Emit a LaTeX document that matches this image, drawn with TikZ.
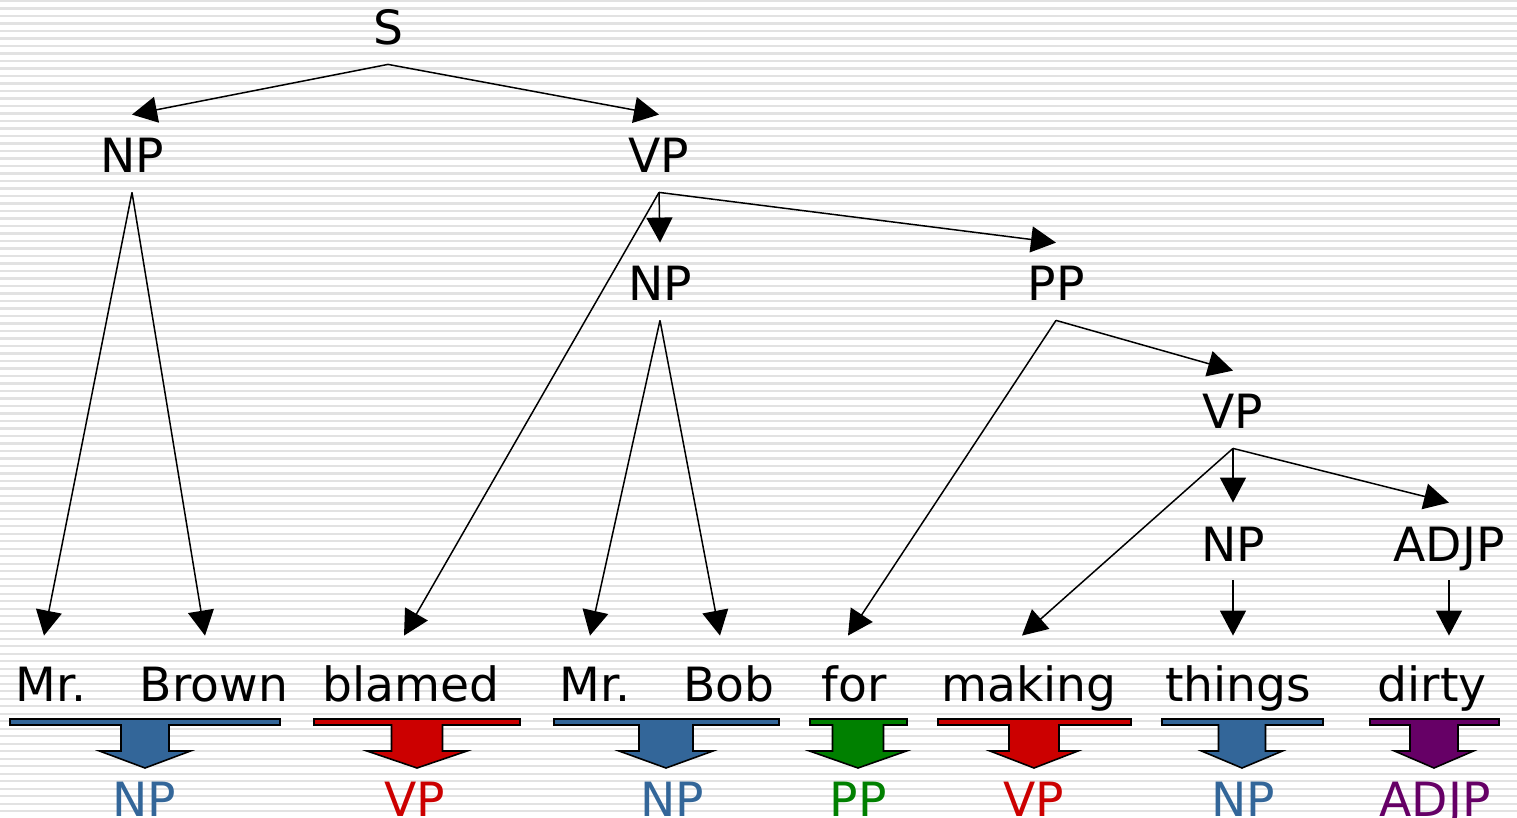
\documentclass[tikz,border=0pt]{standalone}
\usepackage{fontspec}
\setmainfont{DejaVu Sans}
\usetikzlibrary{arrows.meta}
\definecolor{npblue}{HTML}{336699}
\definecolor{vpred}{HTML}{CC0000}
\definecolor{ppgreen}{HTML}{008000}
\definecolor{adjpurple}{HTML}{660066}
\definecolor{stripe}{HTML}{E2E2E2}
\tikzset{
  lbl/.style={font=\fontsize{23.6pt}{28pt}\selectfont, inner sep=0pt, anchor=base},
  cat/.style={lbl, text height=29pt, text depth=9.5pt},
  word/.style={lbl, text height=34pt},
  branch/.style={line width=0.75pt, -{Triangle[length=12.5pt,width=13pt]}},
  chunk/.style={draw=black, line width=0.8pt, line join=miter},
}
% chunk bar with block arrow: left, right, centre, stem half-width, head half-width, colour
\newcommand{\chunkbar}[6]{%
  \filldraw[chunk, fill=#6] (#1,719) -- (#2,719) -- (#2,725) -- ({#3+#4},725)
    -- ({#3+#4},751) -- ({#3+#5},751) -- (#3,768) -- ({#3-#5},751)
    -- ({#3-#4},751) -- ({#3-#4},725) -- (#1,725) -- cycle;}
\begin{document}
\begin{tikzpicture}[x=0.5pt,y=-0.5pt]
\useasboundingbox (0,0) rectangle (1517,818);
% ruled background
\fill[white] (0,0) rectangle (1517,818);
\foreach \k in {0,...,109}
  \fill[stripe] (0,{7.5*\k}) rectangle (1517,{7.5*\k+2.2});

% phrase-structure nodes
\node[cat] (s)    at (388,45)   {S};
\node[cat] (np1)  at (132,173)  {NP};
\node[cat] (vp1)  at (659,173)  {VP};
\node[cat] (np2)  at (660,301)  {NP};
\node[cat] (pp)   at (1056,301) {PP};
\node[cat] (vp2)  at (1233,429) {VP};
\node[cat] (np3)  at (1233,561) {NP};
\node[cat] (adjp) at (1449,561) {ADJP};

% words
\node[word] (w1) at (51,701)   {Mr.};
\node[word] (w2) at (214,701)  {Brown};
\node[word] (w3) at (411,701)  {blamed};
\node[word] (w4) at (595,701)  {Mr.};
\node[word] (w5) at (729,701)  {Bob};
\node[word] (w6) at (854,701)  {for};
\node[word] (w7) at (1029,701) {making};
\node[word] (w8) at (1238,701) {things};
\node[word] (w9) at (1432,701) {dirty};

% tree branches
\draw[branch] (s.south) -- (np1.north);
\draw[branch] (s.south) -- (vp1.north);
\draw[branch] (np1.south) -- ([xshift=-3.5pt,yshift=-1.5pt]w1.north);
\draw[branch] (np1.south) -- ([xshift=-4.5pt,yshift=-1.5pt]w2.north);
\draw[branch] (vp1.south) -- ([xshift=-3.5pt,yshift=-1.5pt]w3.north);
\draw[branch] (vp1.south) -- (np2.north);
\draw[branch] (vp1.south) -- (pp.north);
\draw[branch] (np2.south) -- ([xshift=-2.5pt,yshift=-1.5pt]w4.north);
\draw[branch] (np2.south) -- ([xshift=-4.5pt,yshift=-1.5pt]w5.north);
\draw[branch] (pp.south) -- ([xshift=-3pt,yshift=-1.5pt]w6.north);
\draw[branch] (pp.south) -- (vp2.north);
\draw[branch] (vp2.south) -- ([xshift=-3.5pt,yshift=-1.5pt]w7.north);
\draw[branch] (vp2.south) -- (np3.north);
\draw[branch] (vp2.south) -- (adjp.north);
\draw[branch] (np3.south) -- ([xshift=-2.5pt,yshift=-1.5pt]w8.north);
\draw[branch] (adjp.south) -- ([xshift=8.5pt,yshift=-1.5pt]w9.north);

% chunk bars
\chunkbar{10}{280}{145}{24}{45.5}{npblue}
\chunkbar{314}{520}{417}{25.5}{50}{vpred}
\chunkbar{554}{779}{666}{27}{47}{npblue}
\chunkbar{810}{907}{858}{25.5}{48.5}{ppgreen}
\chunkbar{938}{1131}{1034}{25}{44}{vpred}
\chunkbar{1162}{1323}{1242}{23.5}{40.5}{npblue}
\chunkbar{1370}{1499}{1434}{24}{39.5}{adjpurple}

% chunk labels
\node[lbl, text=npblue]     (c1) at (144,816)  {NP};
\node[lbl, text=vpred]      (c2) at (415,816)  {VP};
\node[lbl, text=npblue]     (c3) at (672,816)  {NP};
\node[lbl, text=ppgreen]    (c4) at (858,816)  {PP};
\node[lbl, text=vpred]      (c5) at (1034,816) {VP};
\node[lbl, text=npblue]     (c6) at (1243,816) {NP};
\node[lbl, text=adjpurple]  (c7) at (1435,816) {ADJP};
\end{tikzpicture}
\end{document}
